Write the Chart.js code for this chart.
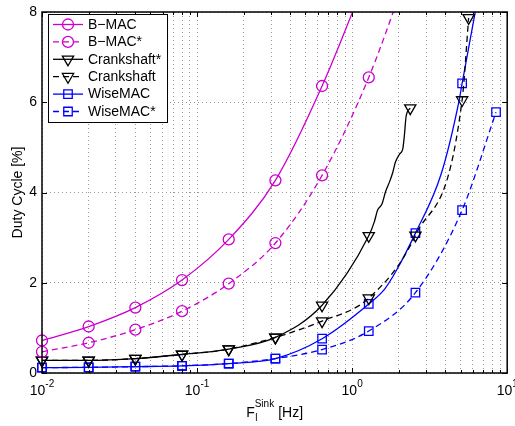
<!DOCTYPE html>
<html>
<head>
<meta charset="utf-8">
<script src="https://cdn.jsdelivr.net/npm/chart.js@4.4.0/dist/chart.umd.min.js"></script>
<style>
  html, body { margin: 0; padding: 0; background: #fff; }
</style>
</head>
<body>
<canvas id="chart" width="515" height="426"></canvas>
<script>
const FONT = "'Liberation Sans', Arial, Helvetica, sans-serif";
const MAG = "#cc00cc";
const BLUE = "#0000ff";
const BLACK = "#000000";

// sink frequencies where the markers sit [Hz]
const freq = [0.01, 0.02, 0.04, 0.08, 0.16, 0.32, 0.64, 1.28, 2.56, 5.12];

// duty cycle [%] at those frequencies
const bmac = [0.72, 1.03, 1.45, 2.06, 2.96, 4.27, 6.36, 8.9];
const bmacStar = [0.47, 0.67, 0.96, 1.37, 1.98, 2.88, 4.38, 6.55, 9.4];
const crankStar = [0.28, 0.28, 0.32, 0.41, 0.53, 0.79, 1.5, 3.04];
const crank = [0.28, 0.28, 0.32, 0.41, 0.53, 0.79, 1.15, 1.66, 3.05, 6.05];
const wise = [0.12, 0.125, 0.14, 0.16, 0.21, 0.32, 0.76, 1.53, 3.1, 6.42];
const wiseStar = [0.12, 0.125, 0.14, 0.16, 0.21, 0.32, 0.52, 0.93, 1.78, 3.61];

// last markers that are off the doubling grid
const crankStarEndF = [2.37];
const crankStarEnd = [5.87];
const crankEndF = [5.64];
const crankEnd = [7.87];
const wiseStarEndF = [8.47];
const wiseStarEnd = [5.78];

// simulated traces between markers (line only, no marker)
const crankStarTraceF = [1.39, 1.46, 1.56, 1.64, 1.74, 1.83, 1.9, 2.02, 2.12, 2.17, 2.23];
const crankStarTrace = [3.35, 3.61, 3.75, 4.01, 4.23, 4.45, 4.67, 4.85, 4.96, 5.25, 5.69];
const wiseTraceF = [1.62, 1.92, 3.75, 4.91, 6.3];
const wiseTrace = [1.86, 2.26, 4.41, 6.06, 8.1];

// axis ticks
const yTicks = [0, 2, 4, 6, 8];
const xDecades = [0.01, 0.1, 1, 10];
const xExponents = ["-2", "-1", "0", "1"];
const xGrid = [];
xDecades.forEach((d) => {
  for (let k = 1; k <= 9; k++) if (k * d <= 10) xGrid.push(+(k * d).toPrecision(6));
});

function pts(fs, ys, m) {
  return ys.map((y, i) => ({ x: fs[i], y: y, m: m }));
}
function join(...parts) {
  return parts.flat().sort((a, b) => a.x - b.x);
}

function series(label, data, color, dashed, style, r) {
  return {
    label: label,
    data: data,
    borderColor: color,
    borderWidth: 1.3,
    borderDash: dashed ? [6, 4] : [],
    pointStyle: style,
    pointRotation: style === "triangle" ? 180 : 0,
    markR: r,
    pointRadius: (c) => (c.raw && c.raw.m ? r : 0),
    pointBorderColor: color,
    pointBorderWidth: 1.3,
    pointBackgroundColor: "rgba(0,0,0,0)",
    cubicInterpolationMode: "monotone",
    clip: { left: 10, right: 10, top: 0, bottom: 0 },
  };
}

function drawMarker(ctx, style, x, y, r) {
  ctx.beginPath();
  if (style === "circle") {
    ctx.arc(x, y, r, 0, Math.PI * 2);
  } else if (style === "triangle") {
    let rad = Math.PI;
    ctx.moveTo(x + Math.sin(rad) * r, y - Math.cos(rad) * r);
    rad += (Math.PI * 2) / 3;
    ctx.lineTo(x + Math.sin(rad) * r, y - Math.cos(rad) * r);
    rad += (Math.PI * 2) / 3;
    ctx.lineTo(x + Math.sin(rad) * r, y - Math.cos(rad) * r);
    ctx.closePath();
  } else {
    const s = r * Math.SQRT1_2;
    ctx.rect(x - s, y - s, 2 * s, 2 * s);
  }
  ctx.stroke();
}

const legendBox = {
  id: "legendBox",
  afterDatasetsDraw(chart) {
    const ctx = chart.ctx;
    const x0 = 48, y0 = 14, w = 119, h = 108, step = 17.4;
    ctx.save();
    ctx.fillStyle = "#fff";
    ctx.fillRect(x0, y0, w, h);
    ctx.strokeStyle = "#000";
    ctx.lineWidth = 1;
    ctx.strokeRect(x0 + 0.5, y0 + 0.5, w, h);
    chart.data.datasets.forEach((ds, i) => {
      const cy = 24.5 + i * step;
      ctx.strokeStyle = ds.borderColor;
      ctx.lineWidth = ds.borderWidth;
      ctx.setLineDash(ds.borderDash);
      ctx.beginPath();
      ctx.moveTo(53, cy);
      ctx.lineTo(83, cy);
      ctx.stroke();
      ctx.setLineDash([]);
      drawMarker(ctx, ds.pointStyle, 68, cy, ds.markR);
      ctx.fillStyle = "#000";
      ctx.font = "14px " + FONT;
      ctx.textBaseline = "middle";
      ctx.fillText(ds.label, 88, cy + 0.5);
    });
    ctx.restore();
  },
};

const frame = {
  id: "frame",
  afterDraw(chart) {
    const { ctx, chartArea: a } = chart;
    const x = chart.scales.x;
    const y = chart.scales.y;
    ctx.save();
    ctx.strokeStyle = "#000";
    ctx.lineWidth = 1;
    ctx.beginPath();
    x.ticks.forEach((t) => {
      const px = Math.round(x.getPixelForValue(t.value)) + 0.5;
      const len = t.major ? 5 : 3;
      ctx.moveTo(px, a.bottom);
      ctx.lineTo(px, a.bottom - len);
      ctx.moveTo(px, a.top);
      ctx.lineTo(px, a.top + len);
    });
    y.ticks.forEach((t) => {
      const py = Math.round(y.getPixelForValue(t.value)) + 0.5;
      ctx.moveTo(a.left, py);
      ctx.lineTo(a.left + 5, py);
      ctx.moveTo(a.right, py);
      ctx.lineTo(a.right - 5, py);
    });
    ctx.stroke();
    ctx.lineWidth = 1.5;
    ctx.strokeRect(a.left, a.top, a.right - a.left, a.bottom - a.top);

    // x tick labels 10^n
    ctx.fillStyle = "#000";
    ctx.textBaseline = "alphabetic";
    xDecades.forEach((d, i) => {
      const px = x.getPixelForValue(d);
      ctx.font = "14px " + FONT;
      const w1 = ctx.measureText("10").width;
      ctx.font = "10px " + FONT;
      const w2 = ctx.measureText(xExponents[i]).width;
      const s = px - (w1 + w2) / 2;
      ctx.font = "14px " + FONT;
      ctx.fillText("10", s, a.bottom + 22);
      ctx.font = "10px " + FONT;
      ctx.fillText(xExponents[i], s + w1, a.bottom + 14);
    });

    // x axis title F_l^Sink [Hz]
    ctx.font = "14px " + FONT;
    const wF = ctx.measureText("F").width;
    const wH = ctx.measureText("[Hz]").width;
    ctx.font = "10px " + FONT;
    const wS = ctx.measureText("Sink").width;
    const total = wF + wS + 4 + wH;
    const sx = (a.left + a.right) / 2 - total / 2;
    const base = a.bottom + 44;
    ctx.font = "14px " + FONT;
    ctx.fillText("F", sx, base);
    ctx.fillText("[Hz]", sx + wF + wS + 4, base);
    ctx.font = "10px " + FONT;
    ctx.fillText("Sink", sx + wF, base - 10);
    ctx.fillText("l", sx + wF + 0.5, base + 4);
    ctx.restore();
  },
};

new Chart(document.getElementById("chart"), {
  type: "line",
  data: {
    datasets: [
      series("B\u2212MAC", join(pts(freq, bmac, true)), MAG, false, "circle", 5.5),
      series("B\u2212MAC*", join(pts(freq, bmacStar, true)), MAG, true, "circle", 5.5),
      series(
        "Crankshaft*",
        join(pts(freq, crankStar, true), pts(crankStarEndF, crankStarEnd, true), pts(crankStarTraceF, crankStarTrace, false)),
        BLACK, false, "triangle", 6.5
      ),
      series("Crankshaft", join(pts(freq, crank, true), pts(crankEndF, crankEnd, true)), BLACK, true, "triangle", 6.5),
      series("WiseMAC", join(pts(freq, wise, true), pts(wiseTraceF, wiseTrace, false)), BLUE, false, "rect", 6),
      series("WiseMAC*", join(pts(freq, wiseStar, true), pts(wiseStarEndF, wiseStarEnd, true)), BLUE, true, "rect", 6),
    ],
  },
  options: {
    responsive: false,
    animation: false,
    devicePixelRatio: 1,
    layout: { padding: { top: 8, right: 7, left: 0, bottom: 0 } },
    plugins: {
      legend: { display: false },
      tooltip: { enabled: false },
    },
    scales: {
      x: {
        type: "logarithmic",
        min: 0.01,
        max: 10,
        afterBuildTicks: (s) => {
          s.ticks = xGrid.map((v) => ({ value: v, major: xDecades.includes(v) }));
        },
        afterFit: (s) => {
          s.height = 53;
        },
        ticks: { display: false },
        grid: { color: "#999", drawTicks: false },
        border: { display: false, dash: [1, 3] },
      },
      y: {
        min: 0,
        max: 8,
        afterBuildTicks: (s) => {
          s.ticks = yTicks.map((v) => ({ value: v }));
        },
        afterFit: (s) => {
          s.width = 42;
        },
        ticks: { color: "#000", font: { family: FONT, size: 14, lineHeight: 1 }, padding: 5 },
        grid: { color: "#999", drawTicks: false },
        border: { display: false, dash: [1, 3] },
        title: {
          display: true,
          text: "Duty Cycle [%]",
          color: "#000",
          font: { family: FONT, size: 14 },
          padding: { top: 10, bottom: 0 },
        },
      },
    },
  },
  plugins: [legendBox, frame],
});
</script>
</body>
</html>
